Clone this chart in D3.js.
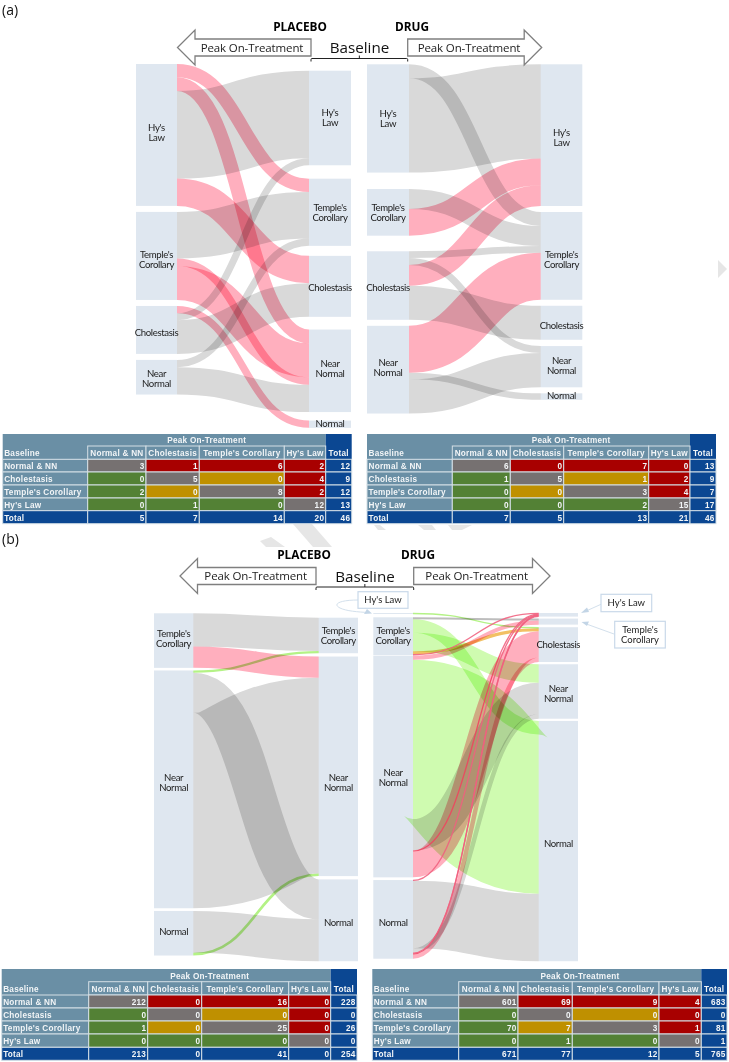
<!DOCTYPE html>
<html><head><meta charset="utf-8">
<script src="https://cdn.jsdelivr.net/npm/d3@7/dist/d3.min.js"></script>
<style>html,body{margin:0;padding:0;background:#fff}svg{display:block}</style>
</head><body><svg id="c" width="729" height="1062"></svg>
<script>
// ---------- DATA ----------
const tableCols = ["Normal & NN","Cholestasis","Temple's Corollary","Hy's Law","Total"];
const tableRows = ["Normal & NN","Cholestasis","Temple's Corollary","Hy's Law","Total"];
const tableA1 = [[3,1,6,2,12],[0,5,0,4,9],[2,0,8,2,12],[0,1,0,12,13],[5,7,14,20,46]];
const tableA2 = [[6,0,7,0,13],[1,5,1,2,9],[0,0,3,4,7],[0,0,2,15,17],[7,5,13,21,46]];
const tableB1 = [[212,0,16,0,228],[0,0,0,0,0],[1,0,25,0,26],[0,0,0,0,0],[213,0,41,0,254]];
const tableB2 = [[601,69,9,4,683],[0,0,0,0,0],[70,7,3,1,81],[0,1,0,0,1],[671,77,12,5,765]];
const cellKinds = [["same","worse","worse","worse"],["better","same","shift","worse"],["better","shift","same","worse"],["better","better","better","same"]];

const names = {Hy:["Hy's","Law"],Temple:["Temple's","Corollary"],Chol:["Cholestasis"],NN:["Near","Normal"],N:["Normal"]};

// flows: [left node, right node, size, kind, stacking rank on the right]
const flowsA1 = [
 ["Hy","Temple",1.90,"worse",3],["Hy","NN",1.96,"worse",8],["Hy","Hy",12.51,"same",1],["Hy","Chol",3.90,"worse",6],
 ["Temple","Temple",6.66,"same",4],["Temple","NN",1.06,"worse",10],["Temple","NN",4.86,"worse",9],
 ["Chol","N",1.04,"worse",12],["Chol","Hy",1.00,"same",2],["Chol","Chol",4.81,"same",7],
 ["NN","Temple",1.04,"same",5],["NN","NN",3.91,"same",11]];
const flowsA2 = [
 ["Hy","Temple",2.00,"same",5],["Hy","Hy",13.47,"same",1],
 ["Temple","Temple",2.86,"same",6],["Temple","Hy",3.81,"worse",2],
 ["Chol","Temple",0.97,"same",7],["Chol","NN",1.00,"same",10],["Chol","Hy",2.96,"worse",3],["Chol","Chol",4.86,"same",9],
 ["NN","Temple",6.71,"worse",8],["NN","N",0.93,"same",12],["NN","NN",4.89,"same",11]];
const flowsB1 = [
 ["Temple","Temple",25,"same",1],["Temple","NN",16,"worse",3],
 ["NN","Temple",1.7,"better",2],["NN","N",30,"same",6],["NN","NN",147,"same",4],
 ["N","N",31.5,"same",7],["N","NN",2,"better",5]];
const flowsB2 = [
 ["Hy","Chol",2.2,"better",8],
 ["Temple","Temple",4.4,"same",6],["Temple","N",30,"better",16],["Temple","NN",41,"better",13],["Temple","Chol",7,"shift",9],["Temple","Hy",1.6,"worse",1],
 ["NN","Temple",9,"worse",7],["NN","N",354,"better",17],["NN","NN",70,"same",14],["NN","Hy",1.6,"worse",2],["NN","Chol",58,"worse",10],
 ["N","Hy",1.6,"worse",3],["N","N",150,"same",18],["N","NN",10,"same",15],["N","Hy",1.6,"worse",4],["N","Hy",1.6,"worse",5],["N","Chol",10,"worse",11]];

// ---------- LAYOUT ----------
const flowStyle = {same:"#d9d9d9",worse:"#ffafbe",better:"#cffbb0",shift:"#f8d28c"};
const thinStyle = {same:"#bdbdbd",worse:"#f0607e",better:"#b4f286",shift:"#f2c064"};
const cellFill = {same:"#767171",worse:"#a80000",better:"#538135",shift:"#bf9000"};
const headFill="#6a8fa5", navy="#0b4792", ribbon="#dfe7f0";
const svg = d3.select("#c");
svg.append("rect").attr("width",729).attr("height",1062).attr("fill","#fff");
const labelFont = "Lato, 'Open Sans', sans-serif";

// faint watermark behind everything
const wm = svg.append("g").attr("fill","#e6e6e6");
[[[718,260],[727,269],[718,278]],
 [[293,524],[312,524],[332,547],[313,547]],
 [[260,541],[271,537],[285,547],[266,547]],
 [[374,525],[380,525],[386,530],[378,530]],
 [[418,525],[432,525],[436,530],[424,530]],
 [[448,525],[472,525],[462,530],[452,530]]
].forEach(p=>wm.append("polygon").attr("points",p.join(" ")));

function sankey(flows,p){
  const k = d3.scaleLinear().domain([0,p.total]).range([0,p.height]);
  const g = svg.append("g");
  function stack(side,order,start,gaps,key){
    let y=start; const out=[];
    order.forEach((n,i)=>{
      const y0=y;
      flows.map((f,j)=>({f,j})).filter(d=>d.f[side]===n)
        .sort((a,b)=>key(a)-key(b))
        .forEach(d=>{const w=k(d.f[2]); (d.j in pos?pos[d.j]:pos[d.j]={})[side]=y+w/2; y+=w;});
      out.push({n,y0,y1:y});
      y+=gaps[i]||0;
    });
    return out;
  }
  const pos={};
  const ln=stack(0,p.left,p.ly,p.lg,d=>d.j);
  const rn=stack(1,p.right,p.ry,p.rg,d=>d.f[4]);
  const rect=(nodes,x0,x1)=>g.append("g").selectAll("rect").data(nodes).join("rect")
    .attr("x",x0).attr("width",x1-x0).attr("y",d=>d.y0).attr("height",d=>d.y1-d.y0).attr("fill",ribbon);
  rect(ln,p.lx[0],p.lx[1]); rect(rn,p.rx[0],p.rx[1]);
  const link=d3.linkHorizontal();
  const hair=f=>k(f[2])<1.6&&f[3]==="worse";
  g.append("g").attr("fill","none").selectAll("path").data(flows).join("path")
    .attr("d",(f,i)=>link({source:[p.lx[1],pos[i][0]],target:[p.rx[0],pos[i][1]]}))
    .attr("stroke",f=>k(f[2])<3.2?thinStyle[f[3]]:flowStyle[f[3]])
    .attr("stroke-width",f=>Math.max(k(f[2]),1.3))
    .attr("stroke-opacity",f=>hair(f)?.88:1)
    .style("mix-blend-mode",f=>hair(f)?"normal":"multiply");
  const label=(nodes,x0,x1,dys)=>nodes.forEach(d=>{
    if(dys[d.n]===null) return;
    const lines=names[d.n], c=(d.y0+d.y1)/2+(dys[d.n]||0);
    const t=g.append("text").attr("x",(x0+x1)/2).attr("text-anchor","middle")
      .attr("font-family",labelFont).attr("font-size",9.6).attr("letter-spacing",-.35).attr("fill","#1c1c1c");
    lines.forEach((s,i)=>t.append("tspan").attr("x",(x0+x1)/2+(p.dx||0))
      .attr("y",c+3.3+(i-(lines.length-1)/2)*10).text(s));
  });
  label(ln,p.lx[0],p.lx[1],p.ld||{}); label(rn,p.rx[0],p.rx[1],p.rd||{});
}

sankey(flowsA1,{total:46,height:322,left:["Hy","Temple","Chol","NN"],right:["Hy","Temple","Chol","NN","N"],
  lx:[136,177],rx:[309,351],ly:64,ry:70.7,lg:[6,6,6],rg:[13.4,10,12.7,8.5],
  ld:{Hy:-2,Temple:4,Chol:3,NN:1.5},rd:{Chol:1.5,NN:-2,N:-1}});
sankey(flowsA2,{total:46,height:322,left:["Hy","Temple","Chol","NN"],right:["Hy","Temple","Chol","NN","N"],
  lx:[367,409],rx:[540.7,582.3],ly:64.3,ry:64.3,lg:[16.4,15.6,6],rg:[6,6,6.3,6],
  ld:{Chol:2.5,NN:-2},rd:{Hy:3,Temple:4,Chol:3,NN:-1,N:-1}});
sankey(flowsB1,{total:254,height:338,left:["Temple","NN","N"],right:["Temple","NN","N"],
  lx:[154,193.3],rx:[318.7,358],ly:613.3,ry:617.7,lg:[2.6,2.7],rg:[3.3,3.3],
  ld:{Temple:-2,NN:-7,N:-1.3},rd:{NN:16.5,N:2.3}});
sankey(flowsB2,{total:765,height:344.25,left:["Hy","Temple","NN","N"],right:["Hy","Temple","Chol","NN","N"],
  lx:[373.3,413],rx:[538.7,578],ly:613,ry:613,lg:[3.3,.6,2.7],rg:[2,2.6,2.3,2.2],
  ld:{Hy:null,NN:11,N:3},rd:{Hy:null,Temple:null,NN:2,N:3}});

// arrows, heading labels
function arrow(tipX,headX,tailX,cy,text,textX){
  const pts=[[tipX,cy],[headX,cy-17.5],[headX,cy-8.5],[tailX,cy-8.5],[tailX,cy+8.5],[headX,cy+8.5],[headX,cy+17.5]];
  svg.append("polygon").attr("points",pts.join(" ")).attr("fill","#fff").attr("stroke","#7f7f7f").attr("stroke-width",1.3);
  svg.append("text").attr("x",textX).attr("y",cy+4.2).attr("text-anchor","middle")
    .attr("font-family","'Open Sans',sans-serif").attr("font-size",11.5).attr("letter-spacing",-.12).attr("fill","#222").text(text);
}
function header(o){
  arrow(o.lTip,o.lTip+17.5,o.lTail,o.cy,"Peak On-Treatment",o.lText);
  arrow(o.rTip,o.rTip-17.5,o.rTail,o.cy,"Peak On-Treatment",o.rText);
  svg.append("text").attr("x",o.base).attr("y",o.cy+5.5).attr("text-anchor","middle")
    .attr("font-family","'Open Sans',sans-serif").attr("font-size",15.2).attr("fill","#111").text("Baseline");
  const y=o.cy+11, mid=(o.lTail+o.rTail)/2;
  svg.append("path").attr("fill","none").attr("stroke","#222").attr("stroke-width",1)
    .attr("d",`M${o.lTail},${y+3}V${y+1}Q${o.lTail},${y} ${o.lTail+1},${y}H${o.rTail-1}Q${o.rTail},${y} ${o.rTail},${y+1}V${y+3}M${mid},${y}V${y-3}`);
  svg.append("text").attr("x",o.pl).attr("y",o.ty).attr("text-anchor","middle").attr("font-family","'Open Sans',sans-serif")
    .attr("font-weight",700).attr("font-size",11.8).attr("fill","#000").text("PLACEBO");
  svg.append("text").attr("x",o.dr).attr("y",o.ty).attr("text-anchor","middle").attr("font-family","'Open Sans',sans-serif")
    .attr("font-weight",700).attr("font-size",11.8).attr("fill","#000").text("DRUG");
}
header({cy:47.5,lTip:177.5,lTail:311,rTip:541.7,rTail:407.7,lText:252,rText:469,base:359.5,pl:300,dr:412,ty:30.5});
header({cy:576,lTip:180,lTail:316,rTip:550,rTail:413.7,lText:255.7,rText:476.7,base:365,pl:304,dr:418,ty:559});

[["(a)",2,15],["(b)",2,544]].forEach(d=>svg.append("text").attr("x",d[1]).attr("y",d[2])
  .attr("font-family","'Open Sans',sans-serif").attr("font-size",14).attr("fill","#111").text(d[0]));

// callouts
function callout(x,y,w,h,lines){
  svg.append("rect").attr("x",x).attr("y",y).attr("width",w).attr("height",h).attr("fill","#fff")
    .attr("stroke","#c9d9e9").attr("stroke-width",1.2);
  const t=svg.append("text").attr("text-anchor","middle").attr("font-family",labelFont).attr("font-size",9.5).attr("fill","#222");
  lines.forEach((s,i)=>t.append("tspan").attr("x",x+w/2).attr("y",y+h/2+3.3+(i-(lines.length-1)/2)*9.5).text(s));
}
const lead=d=>svg.append("path").attr("d",d).attr("fill","none").attr("stroke","#d3e0ec").attr("stroke-width",1);
const head=p=>svg.append("polygon").attr("points",p.join(" ")).attr("fill","#c3d5e6");
lead("M358,600C340,600 332,604 340,608C346,611 358,612 368,612.5");
head([[372,613.5],[364,614],[367,609]]);
callout(358,591.7,50,16.6,["Hy's Law"]);
lead("M601,604.3L585,611.5"); head([[581,613],[587,607.5],[589,612]]);
callout(601,594.3,50.7,17.4,["Hy's Law"]);
lead("M614,634L585,623.5"); head([[581.5,622],[589,621.5],[587,626]]);
callout(614.7,621.3,50.6,26.7,["Temple's","Corollary"]);

// tables
function table(data,xs,ys){
  const g=svg.append("g").attr("font-family","'Liberation Sans',Arial,sans-serif").attr("font-weight",700)
    .attr("font-size",8.2).attr("letter-spacing",.25).attr("fill","#f2f5f7");
  const line="#d4dfe6";
  const cell=(x0,x1,y0,y1,fill,stroke)=>g.append("rect").attr("x",x0).attr("y",y0).attr("width",x1-x0).attr("height",y1-y0)
    .attr("fill",fill).attr("stroke",stroke||"none").attr("stroke-width",1);
  const w=(x0,x1)=>d3.scaleLinear().domain([0,1]).range([x0,x1]);
  cell(xs[0],xs[5],ys[0],ys[2],headFill);
  cell(xs[5],xs[6],ys[0],ys[7],navy);
  g.append("text").attr("x",w(xs[1],xs[5])(.5)).attr("y",ys[1]-3).attr("text-anchor","middle").text("Peak On-Treatment");
  g.append("text").attr("x",xs[0]+1.5).attr("y",ys[2]-3).text("Baseline");
  tableCols.forEach((c,i)=>{
    if(i<4) cell(xs[i+1],xs[i+2],ys[1],ys[2],headFill,line);
    g.append("text").attr("x",(xs[i+1]+xs[i+2])/2).attr("y",ys[2]-3).attr("text-anchor","middle").text(c);
  });
  tableRows.forEach((r,i)=>{
    const total=i===4, y0=ys[i+2], y1=ys[i+3];
    cell(xs[0],xs[1],y0,y1,total?navy:headFill,line);
    g.append("text").attr("x",xs[0]+1.5).attr("y",y1-3).text(r);
    data[i].forEach((v,j)=>{
      const fill=(total||j===4)?navy:cellFill[cellKinds[i][j]];
      cell(xs[j+1],xs[j+2],y0,y1,fill,line);
      g.append("text").attr("x",xs[j+2]-1.5).attr("y",y1-3).attr("text-anchor","end").text(v);
    });
  });
}
table(tableA1,[2.7,87.7,146,199.3,284.3,325.7,351.7],[434,446,459.3,472,485,498,510.7,523.7]);
table(tableA2,[367,452.3,510.3,563.7,648.7,690,716],[434,446,459.3,472,485,498,510.7,523.7]);
table(tableB1,[1.7,88.7,147.7,201.7,288.7,330.7,357],[969,981.7,995,1008,1021,1034,1047.3,1060.3]);
table(tableB2,[372.3,458.7,518,572.3,659,701.3,727],[969,981.7,995,1008,1021,1034,1047.3,1060.3]);
</script></body></html>
